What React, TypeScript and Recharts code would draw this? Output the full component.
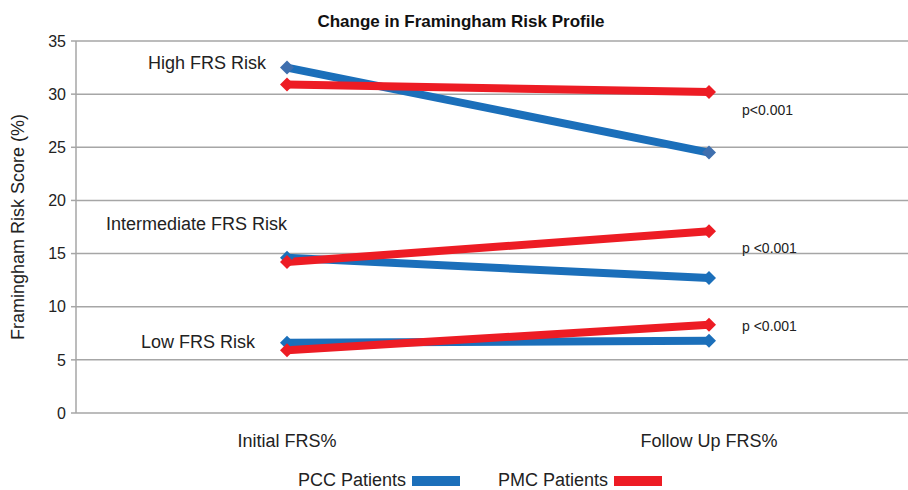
import React from 'react';
import { LineChart, Line, XAxis, YAxis, CartesianGrid, ReferenceDot } from 'recharts';

const categories = ['Initial FRS%', 'Follow Up FRS%'];
const pccHigh = [32.5, 24.5];
const pmcHigh = [30.9, 30.2];
const pccInter = [14.6, 12.7];
const pmcInter = [14.2, 17.1];
const pccLow = [6.6, 6.8];
const pmcLow = [5.9, 8.3];
const yTicks = [0, 5, 10, 15, 20, 25, 30, 35];
const groupLabels = ['High FRS Risk', 'Intermediate FRS Risk', 'Low FRS Risk'];
const groupLabelY = [33.0, 17.8, 6.7];
const pLabels = ['p<0.001', 'p <0.001', 'p <0.001'];
const pLabelY = [28.5, 15.5, 8.2];
const seriesNames = ['PCC Patients', 'PMC Patients'];

const BLUE = '#1b6fba';
const RED = '#ed1c24';
const FONT = '"Liberation Sans", Arial, sans-serif';

const data = categories.map((c, i) => ({
  cat: c,
  idx: i + 0.5,
  pccHigh: pccHigh[i],
  pmcHigh: pmcHigh[i],
  pccInter: pccInter[i],
  pmcInter: pmcInter[i],
  pccLow: pccLow[i],
  pmcLow: pmcLow[i],
}));

const Diamond = (color: string) => (props: any) => {
  const { cx, cy } = props;
  if (cx == null || cy == null) return null;
  const s = 7;
  return (
    <path
      d={`M${cx - s},${cy} L${cx},${cy - s} L${cx + s},${cy} L${cx},${cy + s} Z`}
      fill={color}
      stroke="none"
    />
  );
};

const YLabel = (props: any) => {
  const { viewBox } = props;
  const x = viewBox.x + 2;
  const y = viewBox.y + viewBox.height / 2;
  return (
    <text
      x={x}
      y={y}
      transform={`rotate(-90, ${x}, ${y})`}
      textAnchor="middle"
      dominantBaseline="central"
      fontFamily={FONT}
      fontSize={18}
      fill="#222"
    >
      Framingham Risk Score (%)
    </text>
  );
};

export default function App() {
  const lineCommon = { strokeWidth: 8, isAnimationActive: false, xAxisId: 'cat' as const };
  return (
    <div style={{ position: 'absolute', left: 0, top: 0, width: 908, height: 490, overflow: 'hidden', background: '#fff' }}>
      <div style={{ position: 'absolute', left: 0, top: 12, width: 908, textAlign: 'center', fontFamily: FONT, fontWeight: 'bold', fontSize: 17, color: '#111', paddingLeft: 14, boxSizing: 'border-box' }}>
        Change in Framingham Risk Profile
      </div>
      <LineChart
        width={930}
        height={490}
        data={data}
        margin={{ top: 41, right: 10, left: 16, bottom: 47 }}
        style={{ position: 'absolute', left: 0, top: 0 }}
      >
        <CartesianGrid horizontal vertical={false} stroke="#a6a6a6" strokeWidth={1.5} />
        <XAxis
          xAxisId="tick"
          type="number"
          dataKey="idx"
          domain={[0, 2]}
          ticks={[0, 1, 2]}
          tick={false}
          tickSize={6}
          height={0}
          axisLine={{ stroke: '#a6a6a6', strokeWidth: 1.5 }}
          tickLine={{ stroke: '#a6a6a6', strokeWidth: 1.5 }}
        />
        <XAxis
          xAxisId="cat"
          dataKey="cat"
          scale="band"
          axisLine={false}
          tickLine={false}
          height={30}
          tickMargin={15}
          tick={{ fontFamily: FONT, fontSize: 18, fill: '#222' }}
        />
        <YAxis
          domain={[0, 35]}
          ticks={yTicks}
          width={60}
          tickSize={5}
          tickMargin={5}
          axisLine={{ stroke: '#a6a6a6', strokeWidth: 1.5 }}
          tickLine={{ stroke: '#a6a6a6', strokeWidth: 1.5 }}
          tick={{ fontFamily: FONT, fontSize: 16, fill: '#222' }}
          label={<YLabel />}
        />
        <Line dataKey="pccHigh" stroke={BLUE} {...lineCommon} dot={Diamond('#3f6fae')} legendType="none" />
        <Line dataKey="pccInter" stroke={BLUE} {...lineCommon} dot={Diamond(BLUE)} legendType="none" />
        <Line dataKey="pccLow" stroke={BLUE} {...lineCommon} dot={Diamond(BLUE)} legendType="none" />
        <Line dataKey="pmcHigh" stroke={RED} {...lineCommon} dot={Diamond(RED)} legendType="none" />
        <Line dataKey="pmcInter" stroke={RED} {...lineCommon} dot={Diamond(RED)} legendType="none" />
        <Line dataKey="pmcLow" stroke={RED} {...lineCommon} dot={Diamond(RED)} legendType="none" />
        {groupLabels.map((t, i) => (
          <ReferenceDot
            key={t}
            xAxisId="cat"
            x={categories[0]}
            y={groupLabelY[i]}
            r={0}
            stroke="none"
            label={{ value: t, position: 'left', offset: [21, 0, 32][i], fontFamily: FONT, fontSize: 18, fill: '#222' }}
          />
        ))}
        {pLabels.map((t, i) => (
          <ReferenceDot
            key={'p' + i}
            xAxisId="cat"
            x={categories[1]}
            y={pLabelY[i]}
            r={0}
            stroke="none"
            label={{ value: t, position: 'right', offset: 33, fontFamily: FONT, fontSize: 14, fill: '#222' }}
          />
        ))}
      </LineChart>
      <div style={{ position: 'absolute', left: 298, top: 470, display: 'flex', alignItems: 'center', fontFamily: FONT, fontSize: 18, color: '#222', whiteSpace: 'nowrap' }}>
        <span>{seriesNames[0]}</span>
        <span style={{ display: 'inline-block', width: 48, height: 10, background: BLUE, marginLeft: 6, marginRight: 38 }} />
        <span>{seriesNames[1]}</span>
        <span style={{ display: 'inline-block', width: 48, height: 10, background: RED, marginLeft: 6 }} />
      </div>
    </div>
  );
}
